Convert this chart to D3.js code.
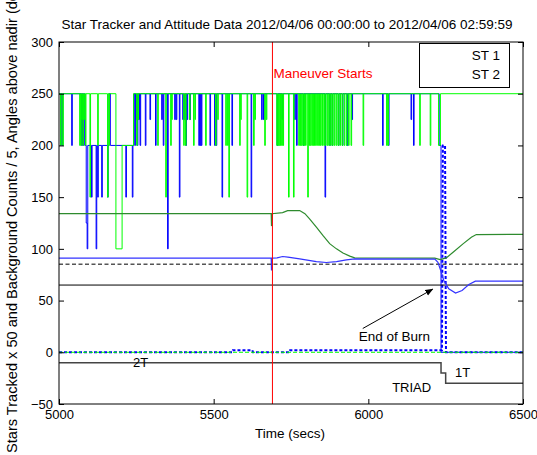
<!DOCTYPE html>
<html>
<head>
<meta charset="utf-8">
<script src="https://cdn.jsdelivr.net/npm/d3@7"></script>
<style>
  body { margin: 0; background: #fff; }
  svg text { font-family: "Liberation Sans", Arial, sans-serif; fill: #000; }
</style>
</head>
<body>
<div id="chart"></div>
<script>
// stars tracked x 50, step change points [secs, value]
const st2Stars = [
  [5000,250],[5005,200],[5007,250],[5010,200],[5012,250],[5041,200],[5043,250],
  [5073,200],[5075,250],[5077,200],[5079,250],[5083,200],
  [5088,125],[5091,100],[5093,200],[5105,150],[5107,200],[5120,100],[5122,200],
  [5125,150],[5127,200],[5138,150],[5140,200],[5157,150],[5159,200],
  [5162,250],[5166,200],[5216,150],[5218,200],[5237,150],[5239,200],[5242,250],
  [5245,200],[5247,250],[5249,225],[5251,250],[5253,200],[5255,250],[5258,225],[5260,250],
  [5262,200],[5264,250],[5279,200],[5281,250],[5294,225],[5296,250],[5312,200],[5314,250],
  [5332,225],[5334,250],[5337,200],[5339,250],[5351,100],[5353,250],
  [5374,225],[5376,250],[5379,225],[5381,250],[5389,150],[5391,250],
  [5400,225],[5402,250],[5405,225],[5407,250],[5410,200],[5412,250],[5414,225],[5416,250],
  [5423,225],[5425,250],[5452,200],[5454,250],[5456,200],[5458,250],[5460,200],[5462,250],
  [5488,200],[5490,250],[5503,200],[5505,250],[5508,200],[5510,250],[5527,150],[5529,250],
  [5559,200],[5561,250],[5621,150],[5623,250],[5655,225],[5657,250],[5661,225],[5663,250],
  [5705,200],[5707,250],[5721,225],[5723,250],[5762,225],[5764,250],[5768,200],[5770,250],
  [5790,200],[5792,250],[5860,150],[5862,250],[5875,200],[5877,250],[5883,200],[5885,250],
  [5903,200],[5905,250],[5916,200],[5918,250],[5932,200],[5934,250],[5947,225],[5949,250],
  [6046,200],[6048,250],[6065,200],[6067,250],[6138,225],[6140,250],[6146,200],[6148,250],
  [6229,200],[6235,0],[6500,0]
];
const st1Stars = [
  [5000,250],[5005,200],[5007,250],[5012,200],[5014,250],[5067,200],[5068,250],
  [5070,200],[5072,250],[5074,225],[5075,250],[5077,200],[5079,250],[5080,225],[5082,250],
  [5086,200],[5087,250],[5100,150],[5102,250],[5125,200],[5127,250],[5157,150],[5159,250],
  [5162,200],[5163,250],[5184,100],[5204,200],[5241,250],
  [5251,200],[5253,250],[5256,225],[5257,250],[5319,200],[5321,250],[5345,150],[5347,250],
  [5361,200],[5363,250],[5365,225],[5366,250],[5403,200],[5405,250],[5409,200],[5411,250],
  [5422,225],[5424,250],[5435,200],[5437,250],[5440,225],[5441,250],[5474,200],[5476,250],
  [5506,200],[5508,250],[5513,225],[5515,250],[5539,200],[5541,250],[5545,200],[5547,250],
  [5549,150],[5551,250],[5584,200],[5586,250],[5588,225],[5589,250],[5608,150],[5610,250],
  [5629,200],[5631,250],[5633,225],[5635,250],[5665,200],[5667,250],[5670,225],[5672,250],
  [5704,200],[5706,250],[5708,200],[5710,250],[5712,200],[5714,250],[5716,200],[5718,250],
  [5720,200],[5722,250],[5724,200],[5726,250],[5742,150],[5744,250],[5758,150],[5760,250],
  [5775,200],[5777,250],[5779,200],[5781,250],[5783,200],[5785,250],[5788,200],[5790,250],
  [5792,200],[5794,250],[5797,200],[5799,250],[5804,150],[5806,250],[5808,200],[5810,250],
  [5812,200],[5814,250],[5817,200],[5819,250],[5821,200],[5823,250],[5826,200],[5828,250],
  [5830,200],[5832,250],[5836,200],[5838,250],[5840,200],[5842,250],[5845,200],[5847,250],
  [5850,200],[5852,250],[5856,200],[5858,250],[5861,200],[5863,250],[5867,200],[5869,250],
  [5872,200],[5874,250],[5878,200],[5880,250],[5884,200],[5886,250],[5890,200],[5892,250],
  [5896,200],[5898,250],[5902,200],[5904,250],[5908,200],[5910,250],[5915,200],[5917,250],
  [5922,200],[5924,250],[5929,200],[5931,250],[5936,200],[5938,250],[5944,200],[5946,250],
  [5983,200],[5985,250],[6059,200],[6061,250],[6063,200],[6065,250],[6166,200],[6168,250],
  [6200,200],[6202,250],[6227,200],[6233,250],[6500,250]
];
// angles above nadir (deg)
const st1Angle = [
  [5000,134],[5686,134],[5687,122],[5689,134],[5723,135],[5739,137],[5778,137],[5795,134],
  [5810,129],[5832,121],[5853,113],[5875,105],[5897,100],[5918,96],[5940,93],[5956,91.3],
  [6215,91],[6232,89.7],[6252,91.3],[6274,96.7],[6306,104.8],[6333,111.2],[6349,113.8],[6500,114]
];
const st2Angle = [
  [5000,91],[5686,91],[5687,79],[5689,91],[5705,91.3],[5723,92.6],[5740,92],[5778,90.3],
  [5832,87.7],[5864,86.8],[5897,87.7],[5929,89.4],[5956,90.3],[6215,90],[6225,87],
  [6234,79],[6244,69.4],[6260,61.4],[6282,57.2],[6303,59.8],[6325,65.6],[6346,68.8],[6500,68.8]
];
// background counts / 5
const st1Background = [[5000,0],[6500,0]];
const st2Background = [
  [5000,0],[5560,0],[5562,2],[5625,2],[5627,0],[5745,0],[5747,2],[6238,2],[6241,200],
  [6248,200],[6251,0],[6500,0]
];
// attitude solution mode
const modeSteps = [[5000,-10],[6235,-20],[6250,-30],[6500,-30]];
const modeLabels = [["2T",5264,-14.5],["1T",6305,-24],["TRIAD",6140,-38]];
const sunLimit = 85;
const earthLimit = 65;
const maneuverTime = 5690;
const xTicks = [5000, 5500, 6000, 6500];
const yTicks = [-50, 0, 50, 100, 150, 200, 250, 300];
const legendNames = ["ST 1", "ST 2"];

const width = 537, height = 455;
const x = d3.scaleLinear().domain([5000, 6500]).range([59, 523]);
const y = d3.scaleLinear().domain([-50, 300]).range([404, 42]);

const svg = d3.select("#chart").append("svg")
  .attr("width", width).attr("height", height);

svg.append("defs").append("clipPath").attr("id", "plot")
  .append("rect").attr("x", 59).attr("y", 42).attr("width", 464).attr("height", 362);

const plot = svg.append("g").attr("clip-path", "url(#plot)");

const step = d3.line().x(d => x(d[0])).y(d => y(d[1])).curve(d3.curveStepAfter);
const lin = d3.line().x(d => x(d[0])).y(d => y(d[1]));

// star counts
plot.append("path").attr("d", step(st2Stars)).attr("fill", "none")
  .attr("stroke", "#0000ff").attr("stroke-width", 1);
plot.append("path").attr("d", step(st1Stars)).attr("fill", "none")
  .attr("stroke", "#00ff00").attr("stroke-width", 1);

// background counts
plot.append("path").attr("d", lin(st2Background)).attr("fill", "none")
  .attr("stroke", "#0000ff").attr("stroke-width", 2).attr("stroke-dasharray", "3,2");
plot.append("path").attr("d", lin(st1Background)).attr("fill", "none")
  .attr("stroke", "#00ff00").attr("stroke-width", 1).attr("stroke-dasharray", "4,2");

// limits
plot.append("line").attr("x1", x(5000)).attr("x2", x(6500))
  .attr("y1", y(sunLimit)).attr("y2", y(sunLimit))
  .attr("stroke", "#555").attr("stroke-width", 1.5).attr("stroke-dasharray", "4,2.5");
plot.append("line").attr("x1", x(5000)).attr("x2", x(6500))
  .attr("y1", y(earthLimit)).attr("y2", y(earthLimit))
  .attr("stroke", "#000").attr("stroke-width", 1);

// angles
plot.append("path").attr("d", lin(st1Angle)).attr("fill", "none")
  .attr("stroke", "#2e8b2e").attr("stroke-width", 1.2);
plot.append("path").attr("d", lin(st2Angle)).attr("fill", "none")
  .attr("stroke", "#3333ff").attr("stroke-width", 1.2);

// mode
plot.append("path").attr("d", step(modeSteps)).attr("fill", "none")
  .attr("stroke", "#444").attr("stroke-width", 1.5);
svg.selectAll(".mode").data(modeLabels).enter().append("text")
  .attr("x", d => x(d[1])).attr("y", d => y(d[2]))
  .attr("text-anchor", "middle").style("font-size", "13px").text(d => d[0]);

// maneuver line
plot.append("line").attr("x1", x(maneuverTime)).attr("x2", x(maneuverTime))
  .attr("y1", y(300)).attr("y2", y(-50)).attr("stroke", "#ff0000").attr("stroke-width", 1);
svg.append("text").attr("x", x(maneuverTime) + 1).attr("y", y(265))
  .style("font-size", "13.5px").style("fill", "#ff0000").text("Maneuver Starts");

// end of burn arrow
svg.append("defs").append("marker").attr("id", "arrow")
  .attr("viewBox", "0 0 10 10").attr("refX", 9).attr("refY", 5)
  .attr("markerWidth", 8).attr("markerHeight", 8).attr("orient", "auto")
  .append("path").attr("d", "M0,1L10,5L0,9Z").attr("fill", "#000");
svg.append("line").attr("x1", x(5982)).attr("y1", y(23)).attr("x2", x(6208)).attr("y2", y(61))
  .attr("stroke", "#000").attr("stroke-width", 1).attr("marker-end", "url(#arrow)");
svg.append("text").attr("x", x(5969)).attr("y", y(10.6))
  .style("font-size", "13.5px").text("End of Burn");

// axes box with inward ticks
const axB = d3.axisBottom(x).tickValues(xTicks).tickSize(-5).tickPadding(6).tickFormat(d3.format("d"));
const axT = d3.axisTop(x).tickValues(xTicks).tickSize(-5).tickFormat("");
const axL = d3.axisLeft(y).tickValues(yTicks).tickSize(-5).tickPadding(6).tickFormat(d3.format("d"));
const axR = d3.axisRight(y).tickValues(yTicks).tickSize(-5).tickFormat("");
function style(g) {
  g.select(".domain").remove();
  g.selectAll("line").attr("stroke", "#000");
  g.selectAll("text").style("font-size", "13px").style("font-family", "Liberation Sans, Arial, sans-serif");
}
svg.append("g").attr("transform", "translate(0,404)").call(axB).call(style);
svg.append("g").attr("transform", "translate(0,42)").call(axT).call(style);
svg.append("g").attr("transform", "translate(59,0)").call(axL).call(style);
svg.append("g").attr("transform", "translate(523,0)").call(axR).call(style);
svg.append("rect").attr("x", 59).attr("y", 42).attr("width", 464).attr("height", 362)
  .attr("fill", "none").attr("stroke", "#000").attr("stroke-width", 1);

// legend
const legend = svg.append("g");
legend.append("rect").attr("x", 419.5).attr("y", 43.5).attr("width", 90).attr("height", 44)
  .attr("fill", "#fff").attr("stroke", "#000").attr("stroke-width", 1);
legend.selectAll("text").data(legendNames).enter().append("text")
  .attr("x", 500).attr("y", (d, i) => 59.5 + i * 19.5)
  .attr("text-anchor", "end").style("font-size", "13.5px").text(d => d);

// titles
svg.append("text").attr("x", 287).attr("y", 28.5).attr("text-anchor", "middle")
  .style("font-size", "13.5px")
  .text("Star Tracker and Attitude Data 2012/04/06 00:00:00 to 2012/04/06 02:59:59");
svg.append("text").attr("x", 290).attr("y", 438).attr("text-anchor", "middle")
  .style("font-size", "13.5px").text("Time (secs)");
svg.append("text").attr("transform", "translate(17,453) rotate(-90)")
  .attr("text-anchor", "start").style("font-size", "14.6px")
  .text("Stars Tracked x 50 and Background Counts / 5, Angles above nadir (deg)");
</script>
</body>
</html>
